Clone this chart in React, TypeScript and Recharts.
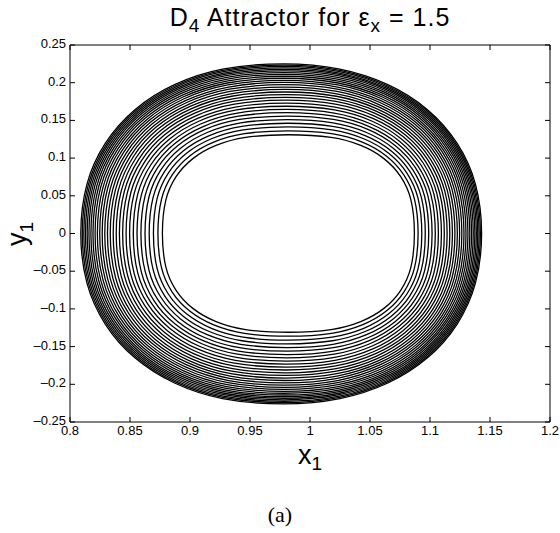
import React from "react";
import { LineChart, Line, XAxis, YAxis } from "recharts";

// axis ticks
const X_TICKS = [0.8, 0.85, 0.9, 0.95, 1, 1.05, 1.1, 1.15, 1.2];
const Y_TICKS = [-0.25, -0.2, -0.15, -0.1, -0.05, 0, 0.05, 0.1, 0.15, 0.2, 0.25];

// outermost loop of the attractor (every 15 degrees, counter-clockwise from the right)
const OUTER_X = [1.143, 1.1378, 1.1225, 1.0979, 1.0649, 1.0249, 0.978, 0.9271, 0.8871, 0.8541, 0.8295, 0.8142,
  0.809, 0.8142, 0.8295, 0.8541, 0.8871, 0.9271, 0.978, 1.0249, 1.0649, 1.0979, 1.1225, 1.1378];
const OUTER_Y = [0, 0.0659, 0.1198, 0.1642, 0.1974, 0.218, 0.225, 0.218, 0.1974, 0.1642, 0.1198, 0.0659,
  0, -0.0662, -0.1204, -0.1649, -0.1983, -0.219, -0.226, -0.219, -0.1983, -0.1649, -0.1204, -0.0662];

// innermost loop
const INNER_X = [1.087, 1.0841, 1.0756, 1.0616, 1.0423, 1.0176, 0.982, 0.9464, 0.9217, 0.9024, 0.8884, 0.8799,
  0.877, 0.8799, 0.8884, 0.9024, 0.9217, 0.9464, 0.982, 1.0176, 1.0423, 1.0616, 1.0756, 1.0841];
const INNER_Y = [0, 0.0445, 0.0753, 0.0993, 0.1168, 0.1274, 0.131, 0.1274, 0.1168, 0.0993, 0.0753, 0.0445,
  0, -0.0445, -0.0753, -0.0993, -0.1168, -0.1274, -0.131, -0.1274, -0.1168, -0.0993, -0.0753, -0.0445];

// where each loop sits between inner (0) and outer (1), read at the y = 0 crossing
const RING_LEVELS = [0, 0.055, 0.11, 0.162, 0.213, 0.263, 0.311, 0.357, 0.402, 0.445, 0.487, 0.527, 0.566, 0.603,
  0.639, 0.673, 0.706, 0.738, 0.768, 0.797, 0.825, 0.851, 0.876, 0.9, 0.922, 0.943, 0.963, 0.982, 1];

const rings = RING_LEVELS.map((t) =>
  OUTER_X.map((ox, i) => ({
    x: INNER_X[i] + t * (ox - INNER_X[i]),
    y: INNER_Y[i] + t * (OUTER_Y[i] - INNER_Y[i]),
  }))
);

// closed Catmull-Rom curve so every loop passes through its points
const closedSpline = (context: any) => {
  let pts: number[][] = [];
  return {
    areaStart() {},
    areaEnd() {},
    lineStart() {
      pts = [];
    },
    point(x: number, y: number) {
      pts.push([+x, +y]);
    },
    lineEnd() {
      const n = pts.length;
      if (!n) return;
      context.moveTo(pts[0][0], pts[0][1]);
      for (let i = 0; i < n; i++) {
        const p0 = pts[(i - 1 + n) % n];
        const p1 = pts[i];
        const p2 = pts[(i + 1) % n];
        const p3 = pts[(i + 2) % n];
        context.bezierCurveTo(
          p1[0] + (p2[0] - p0[0]) / 6,
          p1[1] + (p2[1] - p0[1]) / 6,
          p2[0] - (p3[0] - p1[0]) / 6,
          p2[1] - (p3[1] - p1[1]) / 6,
          p2[0],
          p2[1]
        );
      }
      context.closePath();
    },
  };
};

const FONT = "'Liberation Sans', Arial, Helvetica, sans-serif";
const fmt = (v: number) => (v < 0 ? "\u2013" + String(-v) : String(v));

const BottomTick = (props: any) => {
  const { x, y, payload } = props;
  return (
    <g>
      <line x1={x} y1={y} x2={x} y2={y - 5} stroke="#000" />
      <text x={x} y={y + 13} textAnchor="middle" fontSize={13} fontFamily={FONT} fill="#000">
        {fmt(payload.value)}
      </text>
    </g>
  );
};

const TopTick = (props: any) => {
  const { x, y } = props;
  return <line x1={x} y1={y} x2={x} y2={y + 5} stroke="#000" />;
};

const LeftTick = (props: any) => {
  const { x, y, payload } = props;
  return (
    <g>
      <line x1={x} y1={y} x2={x + 5} y2={y} stroke="#000" />
      <text x={x - 4} y={y + 3} textAnchor="end" fontSize={13} fontFamily={FONT} fill="#000">
        {fmt(payload.value)}
      </text>
    </g>
  );
};

const RightTick = (props: any) => {
  const { x, y } = props;
  return <line x1={x} y1={y} x2={x - 5} y2={y} stroke="#000" />;
};

export default function App() {
  return (
    <div style={{ position: "absolute", left: 0, top: 0, width: 560, height: 533, background: "#fff" }}>
      <LineChart width={560} height={533} margin={{ top: 40, left: 30, right: 5, bottom: 81 }}>
        <XAxis xAxisId="b" dataKey="x" type="number" domain={[0.8, 1.2]} ticks={X_TICKS} height={30}
          tickSize={0} tickMargin={0} tick={<BottomTick />} axisLine={{ stroke: "#000" }} allowDataOverflow />
        <XAxis xAxisId="t" orientation="top" dataKey="x" type="number" domain={[0.8, 1.2]} ticks={X_TICKS} height={5}
          tickSize={0} tickMargin={0} tick={<TopTick />} axisLine={{ stroke: "#000" }} allowDataOverflow />
        <YAxis yAxisId="l" dataKey="y" type="number" domain={[-0.25, 0.25]} ticks={Y_TICKS} width={40}
          tickSize={0} tickMargin={0} tick={<LeftTick />} axisLine={{ stroke: "#000" }} allowDataOverflow />
        <YAxis yAxisId="r" orientation="right" dataKey="y" type="number" domain={[-0.25, 0.25]} ticks={Y_TICKS} width={5}
          tickSize={0} tickMargin={0} tick={<RightTick />} axisLine={{ stroke: "#000" }} allowDataOverflow />
        {rings.map((ring, k) => (
          <Line key={k} data={ring} dataKey="y" xAxisId="b" yAxisId="l" type={closedSpline as any}
            stroke="#000" strokeWidth={1.3} dot={false} activeDot={false} isAnimationActive={false} />
        ))}
      </LineChart>
      <div style={{ position: "absolute", left: 70, width: 480, top: 5, textAlign: "center", fontFamily: FONT, fontSize: 25, lineHeight: "25px", letterSpacing: 1 }}>
        D<sub style={{ fontSize: 19 }}>4</sub> Attractor for ε<sub style={{ fontSize: 19 }}>x</sub> = 1.5
      </div>
      <div style={{ position: "absolute", left: 70, width: 480, top: 442, textAlign: "center", fontFamily: FONT, fontSize: 27, lineHeight: "27px" }}>
        x<sub style={{ fontSize: 19 }}>1</sub>
      </div>
      <div style={{ position: "absolute", left: 22, top: 234, width: 0, height: 0 }}>
        <div style={{ position: "absolute", transform: "translate(-50%, -50%) rotate(-90deg)", fontFamily: FONT, fontSize: 27, lineHeight: "27px", whiteSpace: "nowrap" }}>
          y<sub style={{ fontSize: 19 }}>1</sub>
        </div>
      </div>
      <div style={{ position: "absolute", left: 0, width: 560, top: 502, textAlign: "center", fontFamily: "'Liberation Serif', 'DejaVu Serif', serif", fontSize: 22 }}>
        (a)
      </div>
    </div>
  );
}
